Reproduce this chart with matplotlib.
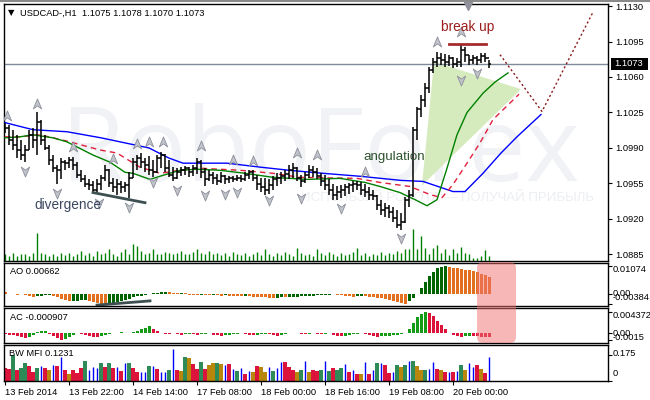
import numpy as np
import matplotlib.pyplot as plt
from matplotlib.collections import LineCollection
from matplotlib.patches import Polygon, FancyBboxPatch, Rectangle
from matplotlib.path import Path
from matplotlib.lines import Line2D
import matplotlib.transforms as mtransforms

plt.rcParams['font.family'] = ['Liberation Sans', 'DejaVu Sans']
FS = 6.7

# ---- price data (pips, 11015 -> 1.1015), hourly bars ----
high_p = [11015, 11013, 11008, 11003, 10998, 10993, 11008, 11010, 11025, 11018,
          11003, 10993, 10983, 10973, 10980, 10978, 10981, 10981, 10976, 10968,
          10963, 10959, 10957, 10959, 10963, 10973, 10969, 10960, 10959, 10957,
          10956, 10966, 10980, 10983, 10985, 10980, 10982, 10978, 10983, 10986,
          10984, 10978, 10971, 10970, 10971, 10972, 10971, 10973, 10980, 10978,
          10970, 10968, 10966, 10964, 10966, 10963, 10962, 10962, 10963, 10963,
          10966, 10968, 10968, 10963, 10960, 10960, 10959, 10962, 10965, 10966,
          10968, 10973, 10975, 10971, 10963, 10966, 10973, 10972, 10970, 10965,
          10963, 10959, 10954, 10952, 10953, 10954, 10955, 10957, 10957, 10956,
          10954, 10951, 10949, 10944, 10939, 10936, 10934, 10932, 10929, 10926,
          10942, 10949, 11011, 11030, 11042, 11054, 11070, 11079, 11085, 11084,
          11083, 11082, 11080, 11079, 11092, 11090, 11082, 11082, 11081, 11084,
          11084, 11077]
low_p = [11005, 10993, 10988, 10980, 10978, 10976, 10988, 10990, 10983, 10993,
         10988, 10973, 10966, 10954, 10959, 10968, 10970, 10968, 10960, 10956,
         10951, 10949, 10946, 10947, 10949, 10957, 10951, 10947, 10944, 10946,
         10947, 10941, 10960, 10968, 10970, 10966, 10963, 10961, 10965, 10970,
         10966, 10961, 10957, 10959, 10962, 10963, 10961, 10962, 10964, 10960,
         10952, 10957, 10954, 10953, 10955, 10954, 10955, 10956, 10957, 10956,
         10957, 10959, 10957, 10949, 10947, 10944, 10945, 10949, 10952, 10954,
         10957, 10959, 10960, 10957, 10951, 10955, 10960, 10961, 10959, 10952,
         10949, 10944, 10939, 10939, 10941, 10943, 10945, 10947, 10949, 10944,
         10942, 10939, 10939, 10929, 10924, 10922, 10921, 10917, 10911, 10909,
         10916, 10932, 10942, 10998, 11021, 11030, 11044, 11064, 11070, 11072,
         11070, 11071, 11069, 11070, 11070, 11075, 11072, 11073, 11072, 11074,
         11075, 11069]
close_p = [11010, 10998, 10993, 10988, 10983, 10988, 11003, 10998, 11016, 10998,
           10990, 10978, 10970, 10968, 10976, 10975, 10978, 10973, 10963, 10959,
           10954, 10953, 10949, 10954, 10960, 10968, 10955, 10951, 10954, 10951,
           10953, 10960, 10976, 10980, 10976, 10973, 10968, 10966, 10980, 10983,
           10970, 10963, 10960, 10966, 10968, 10970, 10966, 10970, 10976, 10966,
           10959, 10963, 10960, 10957, 10962, 10959, 10960, 10959, 10960, 10959,
           10963, 10966, 10960, 10954, 10951, 10949, 10953, 10959, 10960, 10962,
           10964, 10968, 10970, 10960, 10957, 10963, 10968, 10966, 10962, 10957,
           10953, 10949, 10944, 10947, 10949, 10951, 10953, 10954, 10953, 10949,
           10947, 10944, 10943, 10934, 10929, 10931, 10927, 10921, 10914, 10917,
           10939, 10944, 11008, 11028, 11037, 11049, 11067, 11075, 11079, 11077,
           11075, 11079, 11073, 11075, 11087, 11082, 11077, 11079, 11077, 11081,
           11079, 11073]
first_open_p = 11012

volume = [7, 5, 8, 5, 7, 7, 5, 8, 28, 8,
          7, 5, 7, 5, 8, 6, 8, 5, 7, 10,
          6, 8, 5, 10, 7, 8, 12, 7, 5, 9,
          12, 7, 17, 15, 10, 7, 8, 12, 7, 7,
          9, 8, 7, 8, 10, 7, 7, 9, 12, 8,
          7, 10, 7, 8, 6, 8, 5, 9, 7, 6,
          8, 5, 7, 9, 6, 12, 7, 5, 8, 6,
          9, 7, 5, 13, 8, 6, 7, 5, 12, 8,
          6, 9, 7, 5, 8, 6, 7, 9, 13, 6,
          8, 5, 7, 6, 9, 6, 8, 7, 10, 8,
          12, 12, 32, 12, 25, 13, 7, 13, 16, 8,
          12, 6, 12, 8, 14, 8, 7, 3, 3, 5,
          11, 5]

# alligator lines, read at points (bar position, pips)
blue_x = [0, 7, 15.5, 24, 30, 36, 41, 44.5, 55.5, 64, 71, 79.5, 89, 99, 104.5,
          112, 115, 119.5, 124, 128, 134]
blue_p = [11015, 11008, 11006, 11000, 10995, 10990, 10980, 10975, 10975, 10971, 10968,
          10965, 10962, 10958, 10957, 10947, 10947, 10965, 10985, 11001, 11023]
red_x = [0, 3.75, 8.75, 12, 16.25, 23.75, 28, 33.75, 38.75, 43.75, 48.75, 58.75,
         67, 73.75, 88, 93.75, 101.25, 106.25, 109.25, 112, 115.5, 118.75, 122, 128.5]
red_p = [11001, 11001, 11003, 11000, 10996, 10988, 10985, 10971, 10965, 10968, 10970,
         10968, 10965, 10961, 10960, 10956, 10952, 10944, 10941, 10954, 10975, 10995,
         11018, 11043]
green_x = [0, 3.75, 7, 12, 15.5, 18, 22, 26.25, 30, 32, 36.25, 39.5, 43.75, 48,
           53.75, 60, 67, 75.5, 83.75, 90, 93.75, 98.75, 102.5, 105.5, 108, 110.5,
           113, 115.5, 119.5, 122.5, 125.75]
green_p = [11000, 11001, 11003, 11000, 10996, 10991, 10983, 10976, 10966, 10965,
           10959, 10963, 10968, 10969, 10968, 10965, 10961, 10959, 10960, 10956,
           10952, 10946, 10939, 10933, 10939, 10970, 11003, 11025, 11044, 11055, 11064]

# fractals
up_x = [0.5, 8, 17, 27, 33, 36, 39.5, 49, 57, 62, 73, 78, 90, 108, 114]
up_p = [11022, 11033, 10991, 10979, 10994, 10996, 10996, 10992, 10978, 10977,
        10985, 10983, 10966, 11095, 11104]
dn_x = [5, 13, 23.5, 31, 37, 43, 50, 55, 58, 66, 74, 84, 99, 114, 118]
dn_p = [10967, 10946, 10936, 10932, 10956, 10949, 10944, 10945, 10947, 10939,
        10941, 10931, 10901, 11057, 11064]

ao = [0.0007, 0.0003, 0.0001, -0.0001, 0.0000, -0.0003, -0.0006, -0.0009, -0.0008, -0.0006,
      -0.0004, -0.0003, -0.0005, -0.0011, -0.0017, -0.0022, -0.0026, -0.0025, -0.0024, -0.0022,
      -0.0021, -0.0024, -0.0029, -0.0033, -0.0036, -0.00384, -0.0036, -0.0033, -0.0029, -0.0025,
      -0.0021, -0.0016, -0.0012, -0.0008, -0.0005, -0.0002, 0.0001, 0.0004, 0.0006, 0.0007,
      0.0008, 0.0007, 0.0006, 0.0005, 0.0006, 0.0004, -0.0001, -0.0002, -0.0003, -0.0002,
      -0.0003, -0.0004, -0.0003, -0.0004, -0.0005, -0.0004, -0.0005, -0.0006, -0.0007, -0.0008,
      -0.0007, -0.0008, -0.0009, -0.0010, -0.0011, -0.0012, -0.0013, -0.0014, -0.0013, -0.0012,
      -0.0012, -0.0011, -0.0010, -0.0009, -0.0008, -0.0007, -0.0006, -0.0005, -0.0004, -0.0003,
      -0.0002, -0.0001, 0.0000, -0.0002, -0.0004, -0.0006, -0.0008, -0.0009, -0.0008, -0.0007,
      -0.0008, -0.0010, -0.0012, -0.0014, -0.0015, -0.0017, -0.0021, -0.0025, -0.0029, -0.0032,
      -0.0035, -0.0027, -0.0015, 0.0003, 0.0025, 0.0045, 0.0068, 0.0086, 0.0098, 0.0104,
      0.01074, 0.0105, 0.0101, 0.0098, 0.0096, 0.0094, 0.0091, 0.0087, 0.0083, 0.0078,
      0.0072, 0.00662]

ac = [-0.0003, -0.0004, -0.0005, -0.0007, -0.0009, -0.0010, -0.0008, -0.0005, 0.0002, 0.0004,
      0.0005, -0.0002, -0.0006, -0.0010, -0.0015, -0.0012, -0.0008, -0.0004, -0.0001, -0.0003,
      -0.0005, -0.0007, -0.0008, -0.0009, -0.0006, -0.0004, -0.0002, 0.0000, 0.0001, 0.0002,
      0.0001, 0.0000, 0.0002, 0.0004, 0.0008, 0.0011, 0.0014, 0.0009, 0.0004, 0.0001,
      -0.0002, -0.0003, -0.0001, -0.0003, -0.0004, -0.0003, -0.0002, -0.0003, -0.0004, -0.0003,
      -0.0002, -0.0001, -0.0004, -0.0005, -0.0006, -0.0005, -0.0004, -0.0003, -0.0002, -0.0001,
      -0.0003, -0.0004, -0.0005, -0.0004, -0.0003, -0.0002, -0.0003, -0.0005, -0.0006, -0.0004,
      -0.0002, -0.0001, 0.0000, -0.0001, -0.0002, -0.0003, -0.0002, -0.0001, -0.0002, -0.0003,
      -0.0002, -0.0001, -0.0004, -0.0006, -0.0007, -0.0006, -0.0005, -0.0003, -0.0002, -0.0001,
      -0.0002, -0.0004, -0.0006, -0.0008, -0.0007, -0.0006, -0.00055, -0.0005, -0.0004, -0.0003,
      -0.0001, 0.0009, 0.0021, 0.0033, 0.0040, 0.004372, 0.0041, 0.0034, 0.0025, 0.0016,
      0.0008, 0.0001, -0.0004, -0.0007, -0.0008, -0.0007, -0.0006, -0.00065, -0.0007, -0.0008,
      -0.00085, -0.000907]

mfi = [0.085, 0.080, 0.173, 0.073, 0.085, 0.118, 0.102, 0.062, 0.085, 0.102,
       0.085, 0.073, 0.107, 0.100, 0.162, 0.073, 0.049, 0.073, 0.056, 0.089,
       0.133, 0.073, 0.096, 0.085, 0.118, 0.096, 0.120, 0.085, 0.096, 0.067,
       0.118, 0.118, 0.085, 0.058, 0.062, 0.062, 0.102, 0.102, 0.080, 0.062,
       0.058, 0.073, 0.211, 0.073, 0.067, 0.162, 0.151, 0.111, 0.080, 0.129,
       0.080, 0.107, 0.118, 0.118, 0.111, 0.107, 0.111, 0.080, 0.070, 0.090,
       0.044, 0.067, 0.060, 0.100, 0.096, 0.062, 0.096, 0.070, 0.089, 0.129,
       0.124, 0.096, 0.073, 0.062, 0.075, 0.133, 0.062, 0.073, 0.067, 0.073,
       0.133, 0.070, 0.085, 0.073, 0.085, 0.111, 0.058, 0.073, 0.047, 0.047,
       0.124, 0.047, 0.073, 0.118, 0.118, 0.107, 0.056, 0.060, 0.107, 0.096,
       0.107, 0.133, 0.133, 0.100, 0.073, 0.073, 0.080, 0.129, 0.080, 0.073,
       0.058, 0.062, 0.058, 0.067, 0.107, 0.073, 0.118, 0.096, 0.107, 0.080,
       0.051, 0.162]
# g = green, b = brown (fade), r = pink (squat), u = blue (fake)
mfi_kind = ("rrgrggrrgu" "rbururbrrr" "guuugrgrur" "ugrruuguru"
            "ugurbgbrrg" "rbbgburugu" "rubrbbuguu" "rrrbgubrrg"
            "ugrggururb" "urugurrugb" "gugbbguurb" "rurugbuurb" "ru")

tick_pos = [0, 16, 32, 48, 64, 80, 96, 112]
tick_lab = ["13 Feb 2014", "13 Feb 22:00", "14 Feb 14:00", "17 Feb 08:00",
            "18 Feb 00:00", "18 Feb 16:00", "19 Feb 08:00", "20 Feb 00:00"]
price_ticks = [1.1130, 1.1095, 1.1060, 1.1025, 1.0990, 1.0955, 1.0920, 1.0885]
last_price = 1.1073

# ---- figure ----
W, H = 650, 400
fig = plt.figure(figsize=(6.5, 4), dpi=100)


def box(x0, y0, x1, y1):
    return [x0 / W, 1 - y1 / H, (x1 - x0) / W, (y1 - y0) / H]


def ftext(xp, yp, s, **kw):
    kw.setdefault('fontsize', FS)
    kw.setdefault('va', 'center')
    return fig.text(xp / W, 1 - yp / H, s, **kw)


n = len(close_p)
x = np.arange(n)
high = np.array(high_p) / 1e4
low = np.array(low_p) / 1e4
close = np.array(close_p) / 1e4
opens = np.r_[first_open_p / 1e4, close[:-1]]
XL = (-0.25, 150.75)


def frame(a):
    a.set_xlim(*XL)
    for s in a.spines.values():
        s.set_linewidth(1.0)
        s.set_color('black')
    a.tick_params(axis='x', bottom=False, labelbottom=False)
    a.yaxis.tick_right()
    a.tick_params(axis='y', direction='out', length=3, width=0.8, pad=2,
                  labelsize=FS, right=True, left=False)


ax = fig.add_axes(box(4, 4, 608, 261))
frame(ax)
ax.set_ylim(1.08785, 1.11320)
ax.set_yticks(price_ticks)
ax.set_yticklabels([f"{p:.4f}" for p in price_ticks])

# watermark
ax.text(0.523, 0.31, "RoboForex", transform=ax.transAxes, ha='center', va='baseline',
        fontsize=74, color='#f0f2f5', family='Open Sans', zorder=0)
ax.text(0.735, 0.245, "ИСПОЛЬЗУЙ РОБОТА — ПОЛУЧАЙ ПРИБЫЛЬ", transform=ax.transAxes,
        ha='center', va='center', fontsize=9.5, color='#eceef2', zorder=0)

# angulation fan
ax.add_patch(Polygon([(107.25, 1.1075), (129, 1.1048), (104.25, 1.0953)],
                     closed=True, fc='#d6ebbd', ec='none', zorder=1))

# volumes
ax.vlines(x, 0, np.array(volume) / 257.0, transform=ax.get_xaxis_transform(),
          color='#008000', lw=1, zorder=2)

ax.axhline(last_price, color='#7f8b99', lw=1, zorder=2)

ax.plot(blue_x, np.array(blue_p) / 1e4, color='#0000ff', lw=1, zorder=3)
ax.plot(red_x, np.array(red_p) / 1e4, color='#e0203c', lw=1, dashes=(4, 3), zorder=3)
ax.plot(green_x, np.array(green_p) / 1e4, color='#008000', lw=1, zorder=3)

segs = []
for i in range(n):
    segs.append([(x[i], low[i]), (x[i], high[i])])
    segs.append([(x[i] - 0.4, opens[i]), (x[i], opens[i])])
    segs.append([(x[i], close[i]), (x[i] + 0.4, close[i])])
ax.add_collection(LineCollection(segs, colors='black', linewidths=1.1, zorder=4))

up_m = Path([(0, 1), (0.75, -0.8), (0, -0.25), (-0.75, -0.8), (0, 1)],
            [Path.MOVETO, Path.LINETO, Path.LINETO, Path.LINETO, Path.CLOSEPOLY])
dn_m = Path([(0, -1), (0.75, 0.8), (0, 0.25), (-0.75, 0.8), (0, -1)],
            [Path.MOVETO, Path.LINETO, Path.LINETO, Path.LINETO, Path.CLOSEPOLY])
ax.plot(up_x, np.array(up_p) / 1e4, ls='none', marker=up_m, ms=8, mfc='#c2c4cc',
        mec='#8c8e9a', mew=0.6, zorder=5)
ax.plot(dn_x, np.array(dn_p) / 1e4, ls='none', marker=dn_m, ms=8, mfc='#c2c4cc',
        mec='#8c8e9a', mew=0.6, zorder=5)
ax.plot([115.75], [1.1130], ls='none', marker='v', ms=6, mfc='#8e909a', mec='#8e909a',
        clip_on=False, zorder=6)

# annotations
ax.plot([22, 35], [1.0946, 1.0936], color='#3d4f50', lw=2, zorder=6)
ax.text(15.75, 1.0934, "divergence", ha='center', va='center', fontsize=9.8,
        color='#3c4860', zorder=6)
ax.text(97.25, 1.0981, "angulation", ha='center', va='center', fontsize=9.6,
        color='#2f5230', zorder=6)
ax.plot([111, 120.25], [1.1093, 1.1093], color='#a52a2a', lw=2, zorder=6)
ax.text(115.75, 1.1109, "break up", ha='center', va='center', fontsize=9.8,
        color='#9b1c1c', zorder=6)
ax.plot([123.75, 134.25, 147], [1.1082, 1.1026, 1.1124], color='#8b1a1a', lw=1.0,
        dashes=(1.5, 1.8), zorder=6)

# ---- AO ----
ax_ao = fig.add_axes(box(4, 263, 608, 306))
frame(ax_ao)
ax_ao.set_ylim(-0.00444, 0.01188)
ao_a = np.array(ao)
ao_col = ['#e2701f' if i == 0 or ao_a[i] <= ao_a[i - 1] else '#006400' for i in range(n)]
ax_ao.bar(x, ao_a, width=0.75, color=ao_col, linewidth=0)
ax_ao.plot([23, 36.25], [-0.0041, -0.0025], color='#3d4f50', lw=2)
ax_ao.set_yticks([0.01074, 0.0, -0.00384])
ax_ao.set_yticklabels([])

# ---- AC ----
ax_ac = fig.add_axes(box(4, 308, 608, 343))
frame(ax_ac)
ax_ac.set_ylim(-0.00205, 0.00513)
ac_a = np.array(ac)
ac_col = ['#dc143c' if i == 0 or ac_a[i] <= ac_a[i - 1] else '#169b16' for i in range(n)]
ax_ac.bar(x, ac_a, width=0.75, color=ac_col, linewidth=0)
ax_ac.set_yticks([0.004372, 0.0, -0.0015])
ax_ac.set_yticklabels([])

# ---- BW MFI ----
ax_mf = fig.add_axes(box(4, 345, 608, 381))
frame(ax_mf)
ax_mf.set_ylim(0, 0.24)
kind_col = {'g': '#2e8b57', 'b': '#b8860b', 'r': '#dc143c', 'u': '#0000ff'}
mfi_a = np.array(mfi)
for i in range(n):
    k = mfi_kind[i]
    if k == 'u':
        ax_mf.vlines(x[i], 0, mfi_a[i], color=kind_col[k], lw=1)
    else:
        ax_mf.bar(x[i], mfi_a[i], width=0.8, color=kind_col[k], linewidth=0)
ax_mf.set_yticks([0.175, 0.0])
ax_mf.set_yticklabels([])
ax_mf.tick_params(axis='x', bottom=True, labelbottom=True, direction='out', length=3,
                  width=0.8, pad=2, labelsize=FS)
ax_mf.set_xticks(tick_pos)
ax_mf.set_xticklabels(tick_lab)
for t in ax_mf.get_xticklabels():
    t.set_ha('left')

# right side labels of the indicator windows
for yp, s in [(270, "0.01074"), (294, "0.00"), (298, "-0.00384"),
              (315, "0.004372"), (333, "0.00"), (337, "-0.0015"),
              (353, "0.175"), (373, "0")]:
    ftext(613, yp, s)

ftext(10, 272, "AO 0.00662")
ftext(10, 317, "AC -0.000907")
ftext(9, 354, "BW MFI 0.1231")

ftext(8, 13, "▼", family='DejaVu Sans', fontsize=6)
ftext(20, 13, "USDCAD-,H1  1.1075 1.1078 1.1070 1.1073")

# current price tag
fig.add_artist(Rectangle((611, H - 70), 37, 12, transform=mtransforms.IdentityTransform(),
                         fc='black', ec='none', zorder=8))
ftext(614, 64, "1.1073", color='white', zorder=9)

fig.add_artist(Line2D([0, 1], [1 - 0.8 / H, 1 - 0.8 / H], transform=fig.transFigure,
                      color='#8a8a8a', lw=1.5))

# highlight box over the last indicator bars
fig.add_artist(FancyBboxPatch((477, H - 343), 39, 81,
                              boxstyle='round,pad=0,rounding_size=6',
                              transform=mtransforms.IdentityTransform(),
                              fc='#f07070', ec='none', alpha=0.5, zorder=10))

fig.savefig('out.png', dpi=100)
